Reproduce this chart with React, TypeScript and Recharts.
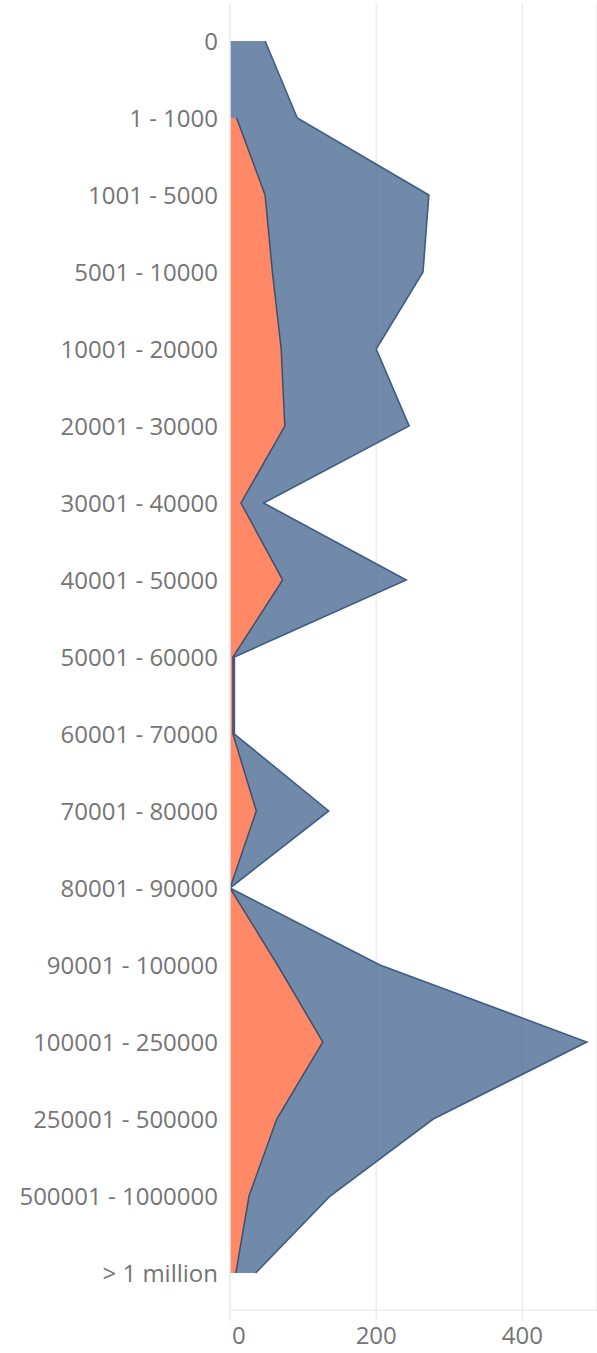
import React from 'react';
import { AreaChart, Area, XAxis, YAxis, CartesianGrid } from 'recharts';

// Revenue bands (y categories)
const categories = [
  '0',
  '1 - 1000',
  '1001 - 5000',
  '5001 - 10000',
  '10001 - 20000',
  '20001 - 30000',
  '30001 - 40000',
  '40001 - 50000',
  '50001 - 60000',
  '60001 - 70000',
  '70001 - 80000',
  '80001 - 90000',
  '90001 - 100000',
  '100001 - 250000',
  '250001 - 500000',
  '500001 - 1000000',
  '> 1 million',
];

// Totals (blue) and the orange subset
const totalValues = [48, 92, 272, 264, 200, 245, 46, 241, 6, 6, 135, 0, 205, 488, 278, 137, 35];
const orangeValues = [null, 9, 48, 58, 70, 75, 15, 72, 4, 4, 36, 0, 65, 127, 64, 26, 8];

const xTicks = [0, 200, 400];

const data = categories.map((band, i) => ({
  band,
  total: totalValues[i],
  orange: orangeValues[i],
}));

const FONT = '"Open Sans", sans-serif';
const TEXT = '#757575';
const GRID = '#ececec';

const BottomTick = (props: any) => {
  const { x, y, payload } = props;
  const first = payload.value === 0;
  return (
    <text
      x={first ? x + 2 : x}
      y={y}
      dy={21}
      textAnchor={first ? 'start' : 'middle'}
      fill={TEXT}
      fontSize={24}
      fontFamily={FONT}
    >
      {payload.value}
    </text>
  );
};

export default function App() {
  return (
    <div style={{ position: 'absolute', left: 0, top: 0, background: '#fff' }}>
      <AreaChart
        width={597}
        height={1353}
        data={data}
        layout="vertical"
        margin={{ top: 3, right: 0, bottom: 0, left: 0 }}
      >
        <CartesianGrid vertical horizontal={false} stroke={GRID} strokeWidth={1.5} />
        <XAxis
          type="number"
          domain={[0, 502]}
          ticks={xTicks}
          allowDataOverflow
          height={43}
          axisLine={{ stroke: GRID, strokeWidth: 1.5 }}
          tickLine={{ stroke: GRID, strokeWidth: 1.5 }}
          tickSize={11}
          tick={<BottomTick />}
        />
        <YAxis
          type="category"
          dataKey="band"
          width={230}
          padding={{ top: 38, bottom: 37 }}
          axisLine={{ stroke: GRID, strokeWidth: 1.5 }}
          tickLine={false}
          tickMargin={6}
          interval={0}
          tick={{ fill: TEXT, fontSize: 24, fontFamily: FONT }}
        />
        <Area
          dataKey="total"
          type="linear"
          fill="#4e6d94"
          fillOpacity={0.8}
          stroke="#3e5c85"
          strokeWidth={1.6}
          isAnimationActive={false}
          dot={false}
          activeDot={false}
        />
        <Area
          dataKey="orange"
          type="linear"
          fill="#ff8866"
          fillOpacity={1}
          stroke="#3f4f6c"
          strokeWidth={1.5}
          isAnimationActive={false}
          dot={false}
          activeDot={false}
        />
      </AreaChart>
    </div>
  );
}
